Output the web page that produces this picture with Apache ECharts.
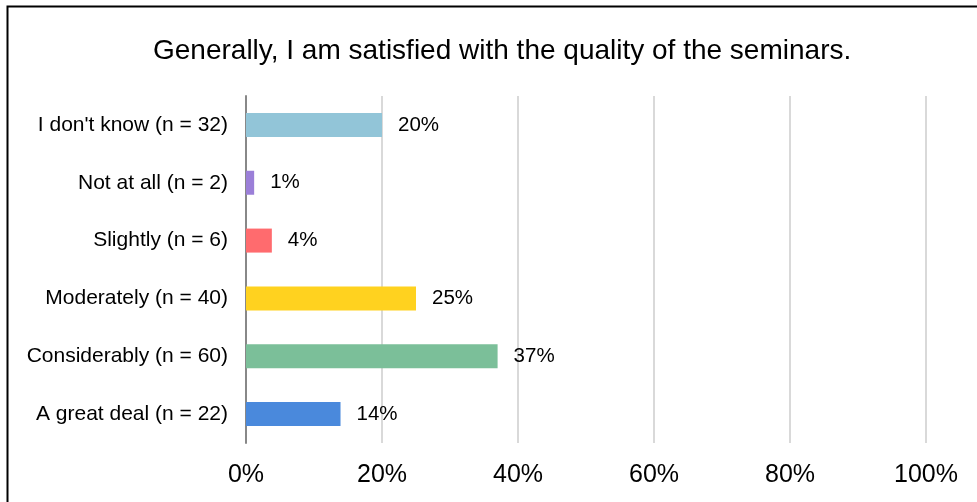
<!DOCTYPE html>
<html><head><meta charset="utf-8">
<script src="https://cdn.jsdelivr.net/npm/echarts@6/dist/echarts.min.js"></script>
<style>html,body{margin:0;padding:0;background:#fff}#c{width:977px;height:502px}</style>
</head><body><div id="c"></div>
<script>
const categories = ["A great deal (n = 22)", "Considerably (n = 60)", "Moderately (n = 40)", "Slightly (n = 6)", "Not at all (n = 2)", "I don't know (n = 32)"];
const values = [13.9, 37.0, 25.0, 3.8, 1.2, 20.0];
const barColors = ["#4A89DC", "#7BBF99", "#FFD21F", "#FF6B6E", "#9B7FD8", "#92C5D8"];
const tickLabels = ["0%", "20%", "40%", "60%", "80%", "100%"];
const titleText = "Generally, I am satisfied with the quality of the seminars.";

const chart = echarts.init(document.getElementById('c'), null, {renderer: 'canvas'});
chart.setOption({
  animation: false,
  backgroundColor: '#fff',
  textStyle: {fontFamily: 'Liberation Sans, Arial, sans-serif'},
  graphic: [{type: 'rect', left: 5, top: 4, shape: {width: 1100, height: 700}, style: {fill: 'none', stroke: '#000', lineWidth: 2}, silent: true}],
  title: {text: titleText, left: 148, top: 32, textStyle: {fontSize: 28, fontWeight: 'normal', color: '#000', fontFamily: 'Liberation Sans, Arial, sans-serif'}},
  grid: {left: 246, right: 51, top: 96, bottom: 59, containLabel: false},
  xAxis: {type: 'value', min: 0, max: 100, interval: 20,
    axisLine: {show: false}, axisTick: {show: false},
    splitLine: {show: true, lineStyle: {color: '#d9d9d9', width: 2}},
    axisLabel: {margin: 20, fontSize: 25, color: '#000', formatter: v => tickLabels[v / 20]}},
  yAxis: {type: 'category', data: categories,
    axisLine: {show: true, lineStyle: {color: '#888', width: 2}}, axisTick: {show: false},
    axisLabel: {margin: 18, fontSize: 21, color: '#000'}},
  series: [{type: 'bar', barWidth: 24,
    data: values.map((v, i) => ({value: v, itemStyle: {color: barColors[i]}})),
    label: {show: true, position: 'right', distance: 16, fontSize: 20.5, color: '#000', formatter: p => Math.round(p.value) + '%'}}]
});
</script></body></html>
